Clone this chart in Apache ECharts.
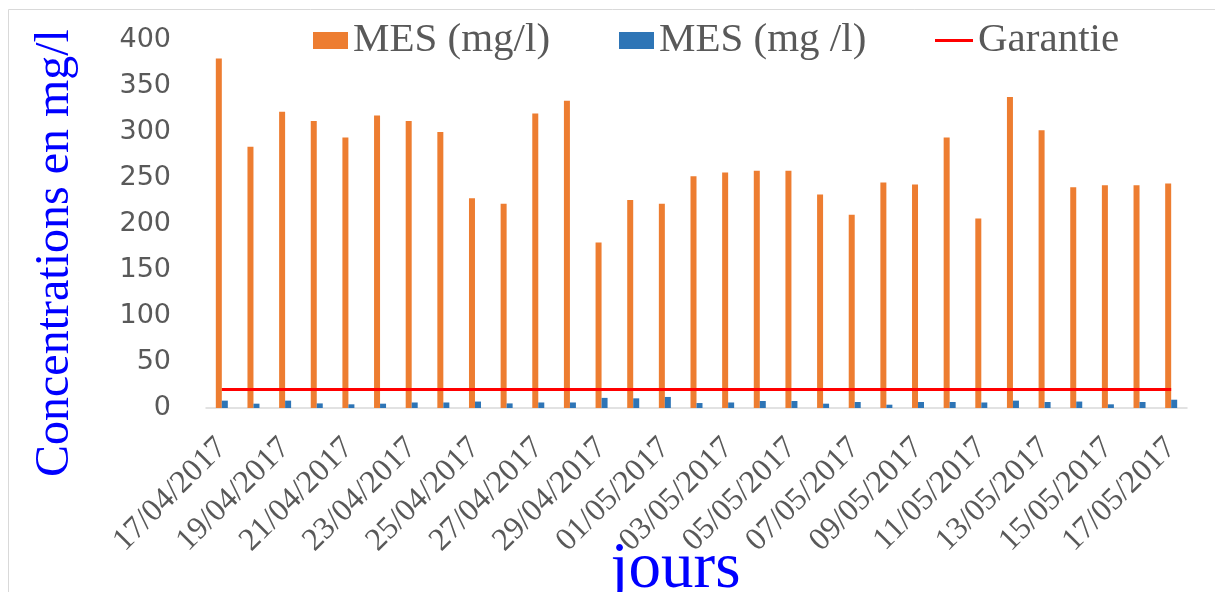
<!DOCTYPE html>
<html>
<head>
<meta charset="utf-8">
<script src="https://cdn.jsdelivr.net/npm/echarts@6/dist/echarts.min.js"></script>
<style>
html,body{margin:0;padding:0;background:#fff;}
#c{width:1215px;height:592px;}
</style>
</head>
<body>
<div id="c"></div>
<script>
const categories = ["17/04/2017","18/04/2017","19/04/2017","20/04/2017","21/04/2017","22/04/2017","23/04/2017","24/04/2017","25/04/2017","26/04/2017","27/04/2017","28/04/2017","29/04/2017","30/04/2017","01/05/2017","02/05/2017","03/05/2017","04/05/2017","05/05/2017","06/05/2017","07/05/2017","08/05/2017","09/05/2017","10/05/2017","11/05/2017","12/05/2017","13/05/2017","14/05/2017","15/05/2017","16/05/2017","17/05/2017"];
const mesEntree = [380,284,322,312,294,318,312,300,228,222,320,334,180,226,222,252,256,258,258,232,210,245,243,294,206,338,302,240,242,242,244];
const mesSortie = [8,4.7,8,5,4,4.7,6,6,7,5,6,6,11,10.5,12,5.4,6,7.6,7.6,4.7,6.5,3.6,6.5,6.5,6,8,6.5,7,4,6.5,9];
const garantie = categories.map(() => 20);
const yTicks = [0,50,100,150,200,250,300,350,400];

const serif = "Liberation Serif";
const legendText = {fontFamily:serif, fontSize:41, color:'#595959'};

const chart = echarts.init(document.getElementById('c'), null, {renderer:'canvas'});
chart.setOption({
  animation:false,
  backgroundColor:'#fff',
  textStyle:{fontFamily:serif},
  graphic:[{type:'rect', shape:{x:8.5,y:9.5,width:1400,height:800}, style:{fill:'none',stroke:'#D9D9D9',lineWidth:1}, silent:true}],
  legend:[
    {top:20, left:313, padding:0, itemWidth:35, itemHeight:17, textStyle:legendText,
     data:[{name:'MES (mg/l)', icon:'rect'}]},
    {top:20, left:619, padding:0, itemWidth:35, itemHeight:17, textStyle:legendText,
     data:[{name:'MES (mg /l)', icon:'rect'}]},
    {top:20, left:935, padding:0, itemWidth:38, itemHeight:3, textStyle:legendText,
     data:[{name:'Garantie', icon:'rect', itemStyle:{color:'#FF0000'}}]}
  ],
  grid:{left:206, right:28, top:40, bottom:184, containLabel:false, outerBoundsMode:'none'},
  xAxis:{
    type:'category', data:categories,
    axisLine:{lineStyle:{color:'#D9D9D9', width:1.5}},
    axisTick:{show:false},
    axisLabel:{interval:1, rotate:45, margin:35, fontFamily:serif, fontSize:32, color:'#595959'},
    name:'jours', nameLocation:'middle', nameGap:129, nameMoveOverlap:false,
    nameTextStyle:{fontFamily:serif, fontSize:65, color:'#0000FF', padding:[0,42,0,0]}
  },
  yAxis:{
    type:'value', min:0, max:400, interval:50,
    axisLine:{show:false}, axisTick:{show:false}, splitLine:{show:false},
    axisLabel:{margin:35, fontFamily:'DejaVu Sans', fontSize:27, color:'#595959',
      formatter: v => yTicks.includes(v) ? String(v) : ''},
    name:'Concentrations en mg/l', nameLocation:'middle', nameGap:127, nameMoveOverlap:false,
    nameTextStyle:{fontFamily:serif, fontSize:48, color:'#0000FF', padding:[0,58,0,0]}
  },
  series:[
    {name:'MES (mg/l)', type:'bar', data:mesEntree, barWidth:6, barGap:'0%', itemStyle:{color:'#ED7D31'}},
    {name:'MES (mg /l)', type:'bar', data:mesSortie, barWidth:6, barGap:'0%', itemStyle:{color:'#2E75B6'}},
    {name:'Garantie', type:'line', data:garantie, symbol:'none', lineStyle:{color:'#FF0000', width:3}, itemStyle:{color:'#FF0000'}}
  ]
});
</script>
</body>
</html>
